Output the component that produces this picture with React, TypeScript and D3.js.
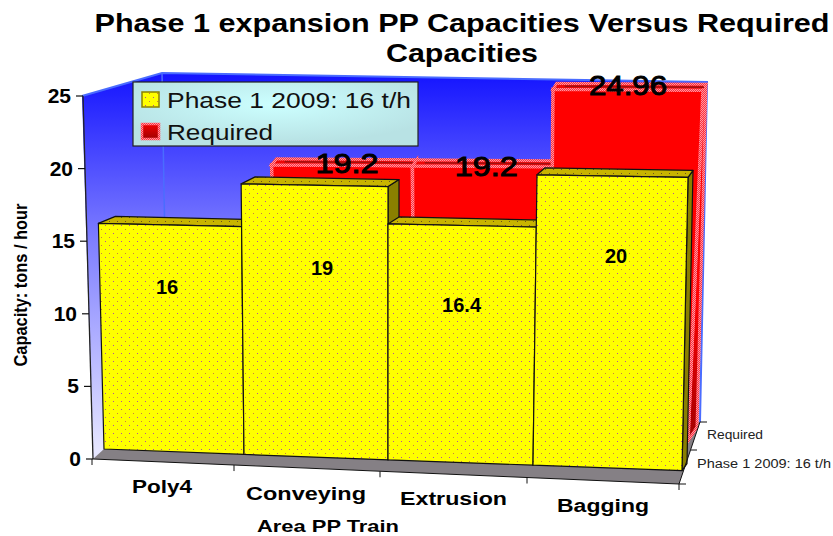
import React from "react";
import * as d3 from "d3";

const categories = ["Poly4", "Conveying", "Extrusion", "Bagging"];
const phase1 = [16, 19, 16.4, 20];
const required = [null, 19.2, 19.2, 24.96];
const yTicks = [0, 5, 10, 15, 20, 25];
const seriesNames = ["Phase 1 2009: 16 t/h", "Required"];

const FONT = "'Liberation Sans', Arial, sans-serif";
const slots = [0, 1, 2, 3, 4];

// Front layer (yellow series) projection
const fxBase = d3.scaleLinear().domain(slots).range([104, 244, 388, 533, 682]);
const fxTop = d3.scaleLinear().domain(slots).range([97, 241, 388, 537, 688]);
const fyBase = d3.scaleLinear().domain([0, 4]).range([449, 470.6]);
const fyUnit = d3.scaleLinear().domain([0, 4]).range([14.1, 14.66]);
const fDepthX = d3.scaleLinear().domain([0, 4]).range([17, 5]);
const FRONT_DEPTH_Y = -7;
const fx = (u: number, v: number) => fxBase(u) + ((fxTop(u) - fxBase(u)) * v) / 20;
const fy = (u: number, v: number) => fyBase(u) - v * fyUnit(u);

// Back layer (red series) projection
const rxBase = d3.scaleLinear().domain(slots).range([264, 277, 414, 550, 688]);
const rxTop = d3.scaleLinear().domain(slots).range([130, 270, 412, 553, 703]);
const ryBase = d3.scaleLinear().domain(slots).range([420, 422, 423, 425, 441]);
const ryUnit = d3.scaleLinear().domain(slots).range([13.4, 13.4, 13.4, 13.45, 14.05]);
const rDepthX = d3.scaleLinear().domain([1, 4]).range([5, 3]);
const RED_DEPTH_Y = -6;
const rx = (u: number, v: number) => rxBase(u) + ((rxTop(u) - rxBase(u)) * v) / 25;
const ry = (u: number, v: number) => ryBase(u) - v * ryUnit(u);

// Y axis
const axisY = d3.scaleLinear().domain([0, 25]).range([459, 96]);
const axisX = d3.scaleLinear().domain([0, 25]).range([93, 83]);

const pts = (p: [number, number][]) => p.map((q) => q.join(",")).join(" ");

type TProps = { x: number; y: number; len?: number; size: number; weight?: any; fill?: string; anchor?: string; stroke?: string; children: any };
const T = ({ x, y, len, size, weight = "bold", fill = "#000", anchor = "middle", stroke, children }: TProps) => (
  <text x={x} y={y} fontSize={size} fontFamily={FONT} fontWeight={weight} fill={fill} textAnchor={anchor as any}
    stroke={stroke} strokeWidth={stroke ? 1 : undefined}
    textLength={len} lengthAdjust={len ? "spacingAndGlyphs" : undefined}>{children}</text>
);

// Label placement inside / above bars
const barLabelShift = [-4, 7, 0, 5];
const barLabelFrac = [0.72, 0.69, 0.66, 0.72];
const redLabelShift = [0, 5, 4, 0];
const redLabelDrop = [0, 7.5, 9.5, 5];
const redLabelLen = [0, 63, 63, 78];
const catCenters = [162, 306, 453.5, 603];
const catBaselines = [493, 499.5, 505, 512];
const catLens = [60, 120, 107, 92];

export default function App() {
  const walls = {
    left: [[82, 96], [162, 73], [168, 420], [93, 459]] as [number, number][],
    back: [[162, 73], [707, 82], [700, 422], [168, 420]] as [number, number][],
    floor: [[93, 459], [104, 449], [168, 420], [700, 422], [679, 484]] as [number, number][],
  };

  return (
    <svg width={833} height={536} style={{ position: "absolute", left: 0, top: 0, background: "#fff" }}>
      <defs>
        <linearGradient id="wall" gradientUnits="userSpaceOnUse" x1={0} y1={73} x2={0} y2={450}>
          <stop offset="0" stopColor="#1414ff" />
          <stop offset="0.45" stopColor="#8080ff" />
          <stop offset="1" stopColor="#e6e6ff" />
        </linearGradient>
        <radialGradient id="legend" cx="0.5" cy="0.35" r="0.6">
          <stop offset="0" stopColor="#ccffff" />
          <stop offset="1" stopColor="#b8e2e4" />
        </radialGradient>
        <linearGradient id="redSwatch" x1="0" y1="0" x2="0" y2="1">
          <stop offset="0" stopColor="#f00000" />
          <stop offset="1" stopColor="#a00000" />
        </linearGradient>
        <linearGradient id="redSide" gradientUnits="userSpaceOnUse" x1={0} y1={300} x2={0} y2={441}>
          <stop offset="0" stopColor="#ff0000" />
          <stop offset="1" stopColor="#a00000" />
        </linearGradient>
        <pattern id="yDots" width={8} height={8} patternUnits="userSpaceOnUse">
          <rect width={8} height={8} fill="#ffff00" />
          <rect x={1} y={1} width={1} height={1} fill="#b050a0" />
          <rect x={5} y={5} width={1} height={1} fill="#c88040" />
        </pattern>
        <pattern id="oDots" width={8} height={8} patternUnits="userSpaceOnUse">
          <rect width={8} height={8} fill="#c8b400" />
          <rect x={1} y={1} width={1} height={1} fill="#705020" />
          <rect x={5} y={5} width={1} height={1} fill="#705020" />
        </pattern>
        <pattern id="pink" width={2} height={2} patternUnits="userSpaceOnUse">
          <rect width={2} height={2} fill="#ff3040" />
          <rect width={1} height={1} fill="#ff98a0" />
          <rect x={1} y={1} width={1} height={1} fill="#ff98a0" />
        </pattern>
      </defs>

      {/* Walls */}
      <polygon points={pts(walls.left)} fill="url(#wall)" />
      <polygon points={pts(walls.back)} fill="url(#wall)" />
      <polygon points={pts(walls.floor)} fill="#858085" />
      <polyline points={pts([walls.back[0], walls.back[3]])} fill="none" stroke="#4a6cff" strokeWidth={1.5} />
      <polyline points={pts([walls.left[0], walls.back[0], walls.back[1], walls.back[2]])} fill="none" stroke="#4a6cff" strokeWidth={2} />

      {/* Required series */}
      {required.map((val, i) => {
        if (val == null) return null;
        const d = rDepthX(i + 1);
        const dl = rDepthX(i);
        const fl: [number, number] = [rx(i, val), ry(i, val)];
        const fr: [number, number] = [rx(i + 1, val), ry(i + 1, val)];
        const br: [number, number] = [fr[0] + d, fr[1] + RED_DEPTH_Y];
        const bl: [number, number] = [fl[0] + dl, fl[1] + RED_DEPTH_Y];
        const bottomR: [number, number] = [rx(i + 1, 0), ry(i + 1, 0)];
        const bottomL: [number, number] = [rx(i, 0), ry(i, 0)];
        return (
          <g key={i}>
            <polygon points={pts([fr, br, [bottomR[0] + 9, bottomR[1] - 14], bottomR])} fill="url(#redSide)" stroke="url(#pink)" strokeWidth={3} />
            <polygon points={pts([fl, fr, bottomR, bottomL])} fill="#ff0000" />
            <polyline points={pts([bottomL, fl, fr, bottomR])} fill="none" stroke="url(#pink)" strokeWidth={3.5} />
            <polygon points={pts([fl, bl, br, fr])} fill="#ee0808" stroke="url(#pink)" strokeWidth={3} />
            <line x1={bl[0] + 8} x2={br[0] - 2} y1={bl[1] + 3} y2={br[1] + 3} stroke="#a01010" strokeWidth={1.5} />
          </g>
        );
      })}

      {/* Phase 1 series */}
      {phase1.map((val, i) => {
        const tl: [number, number] = [fx(i, val), fy(i, val)];
        const tr: [number, number] = [fx(i + 1, val), fy(i + 1, val)];
        const bl: [number, number] = [fx(i, 0), fy(i, 0)];
        const br: [number, number] = [fx(i + 1, 0), fy(i + 1, 0)];
        const dL = fDepthX(i), dR = fDepthX(i + 1);
        const btl: [number, number] = [tl[0] + dL, tl[1] + FRONT_DEPTH_Y];
        const btr: [number, number] = [tr[0] + dR, tr[1] + FRONT_DEPTH_Y];
        const bbr: [number, number] = [br[0] + dR, br[1] + FRONT_DEPTH_Y];
        return (
          <g key={i} stroke="#111" strokeWidth={1.2} strokeLinejoin="round">
            <polygon points={pts([tr, btr, bbr, br])} fill="#8a8000" />
            <polygon points={pts([tl, btl, btr, tr])} fill="url(#oDots)" />
            <polygon points={pts([tl, tr, br, bl])} fill="url(#yDots)" />
          </g>
        );
      })}

      {/* Bar labels */}
      {phase1.map((val, i) => (
        <T key={i} x={fx(i + 0.5, val * barLabelFrac[i]) + barLabelShift[i]} y={fy(i + 0.5, val * barLabelFrac[i]) + 5.5} size={20}>
          {String(val)}
        </T>
      ))}
      {required.map((val, i) =>
        val == null ? null : (
          <T key={i} x={rx(i + 0.5, val) + redLabelShift[i]} y={ry(i + 0.5, val) + redLabelDrop[i]} size={27} weight="normal" stroke="#000" len={redLabelLen[i]}>
            {String(val)}
          </T>
        )
      )}

      {/* Y axis */}
      <line x1={axisX(25)} y1={axisY(25)} x2={axisX(0)} y2={axisY(0)} stroke="#222" strokeWidth={1.3} />
      {yTicks.map((t) => (
        <g key={t}>
          <line x1={axisX(t) - 7} x2={axisX(t)} y1={axisY(t)} y2={axisY(t)} stroke="#111" strokeWidth={1.2} />
          <T x={axisX(t) - 12} y={axisY(t) + 7} size={21} anchor="end">{String(t)}</T>
        </g>
      ))}
      <g transform="translate(27,285) rotate(-90)">
        <T x={0} y={0} size={19} len={163}>Capacity: tons / hour</T>
      </g>

      {/* X axis */}
      <line x1={93} y1={459} x2={679} y2={484} stroke="#111" strokeWidth={1} />
      {slots.map((u) => {
        const x = d3.scaleLinear().domain(slots).range([92, 234, 380, 527, 679])(u);
        const y = 459 + (x - 92) * 0.0426;
        return <line key={u} x1={x} x2={x} y1={y} y2={y + 6} stroke="#111" strokeWidth={1} />;
      })}
      {categories.map((c, i) => (
        <T key={c} x={catCenters[i]} y={catBaselines[i]} size={18} len={catLens[i]}>{c}</T>
      ))}
      <T x={328} y={532} size={17} len={142}>Area PP Train</T>

      {/* Depth axis */}
      <line x1={679} y1={484} x2={700} y2={422} stroke="#111" strokeWidth={1} />
      <line x1={700} x2={707} y1={422} y2={422} stroke="#111" strokeWidth={1} />
      <line x1={691} x2={697} y1={450} y2={450} stroke="#111" strokeWidth={1} />
      <line x1={679} x2={686} y1={484} y2={484} stroke="#111" strokeWidth={1} />
      <T x={707} y={439} size={12.5} weight="normal" anchor="start" fill="#222" len={56}>{seriesNames[1]}</T>
      <T x={697} y={468} size={12.5} weight="normal" anchor="start" fill="#222" len={134}>{seriesNames[0]}</T>

      {/* Legend */}
      <rect x={133} y={82} width={285} height={64} fill="url(#legend)" stroke="#222" strokeWidth={1.2} />
      <rect x={142} y={92} width={17} height={15} fill="url(#yDots)" stroke="#8a8000" strokeWidth={1.5} />
      <rect x={142} y={124} width={17} height={15} fill="url(#redSwatch)" stroke="url(#pink)" strokeWidth={2.5} />
      <T x={167} y={108} size={22} weight="normal" anchor="start" fill="#111" len={244}>{seriesNames[0]}</T>
      <T x={167} y={140} size={22} weight="normal" anchor="start" fill="#111" len={106}>{seriesNames[1]}</T>

      {/* Title */}
      <T x={462} y={32} size={25} len={735}>Phase 1 expansion PP Capacities Versus Required</T>
      <T x={462} y={62} size={25} len={152}>Capacities</T>
    </svg>
  );
}
